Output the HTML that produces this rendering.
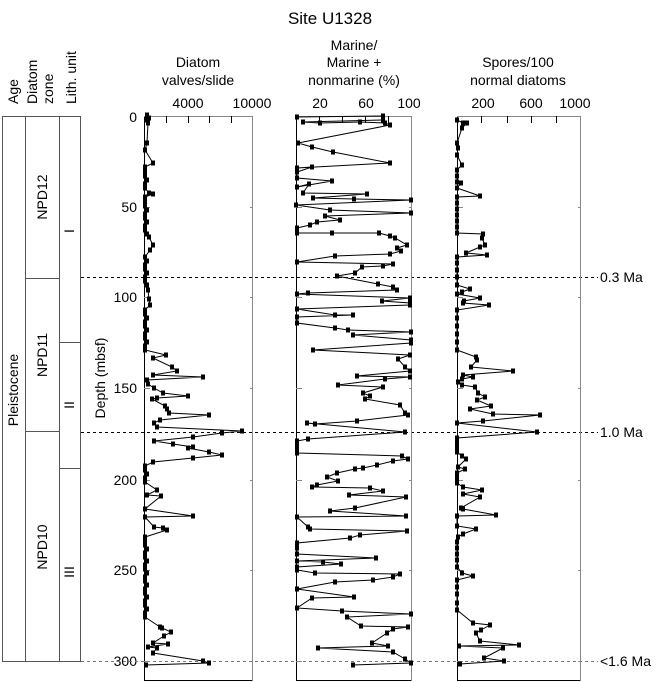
<!DOCTYPE html>
<html><head><meta charset="utf-8"><style>
html,body{margin:0;padding:0;background:#fff}
svg{display:block;font-family:"Liberation Sans",sans-serif}
</style></head><body>
<svg id="s" width="660" height="682" viewBox="0 0 660 682" xmlns="http://www.w3.org/2000/svg">
<text x="330" y="24" font-size="17" text-anchor="middle">Site U1328</text>
<g font-size="14">
<text transform="translate(18,104) rotate(-90)">Age</text>
<text transform="translate(37,104) rotate(-90)">Diatom</text>
<text transform="translate(53,104) rotate(-90)">zone</text>
<text transform="translate(76,104) rotate(-90)">Lith. unit</text>
<text x="198" y="67" text-anchor="middle">Diatom</text>
<text x="198" y="85" text-anchor="middle">valves/slide</text>
<text x="354" y="50" text-anchor="middle">Marine/</text>
<text x="354" y="67" text-anchor="middle">Marine +</text>
<text x="354" y="85" text-anchor="middle">nonmarine (%)</text>
<text x="518" y="67" text-anchor="middle">Spores/100</text>
<text x="518" y="85" text-anchor="middle">normal diatoms</text>
<text x="188" y="108" text-anchor="middle">4000</text>
<text x="252" y="108" text-anchor="middle">10000</text>
<text x="320" y="108" text-anchor="middle">20</text>
<text x="366" y="108" text-anchor="middle">60</text>
<text x="409" y="108" text-anchor="middle">100</text>
<text x="483" y="108" text-anchor="middle">200</text>
<text x="531" y="108" text-anchor="middle">600</text>
<text x="575" y="108" text-anchor="middle">1000</text>
<g text-anchor="end">
<text x="137" y="122">0</text><text x="137" y="212">50</text><text x="137" y="302">100</text>
<text x="137" y="393">150</text><text x="137" y="485">200</text><text x="137" y="575">250</text><text x="137" y="666">300</text>
</g>
<text transform="translate(105,378) rotate(-90)" text-anchor="middle">Depth (mbsf)</text>
<text transform="translate(18,390) rotate(-90)" text-anchor="middle">Pleistocene</text>
<text transform="translate(47,197) rotate(-90)" text-anchor="middle">NPD12</text>
<text transform="translate(47,355) rotate(-90)" text-anchor="middle">NPD11</text>
<text transform="translate(47,547) rotate(-90)" text-anchor="middle">NPD10</text>
<text transform="translate(74,231) rotate(-90)" text-anchor="middle">I</text>
<text transform="translate(74,405) rotate(-90)" text-anchor="middle">II</text>
<text transform="translate(74,572) rotate(-90)" text-anchor="middle">III</text>
<text x="600" y="282">0.3 Ma</text>
<text x="600" y="437">1.0 Ma</text>
<text x="600" y="666">&lt;1.6 Ma</text>
</g>
<g stroke="#555" stroke-width="1" fill="none">
<rect x="2.5" y="116.5" width="78" height="545"/>
<line x1="25.5" y1="116" x2="25.5" y2="662"/>
<line x1="59.5" y1="116" x2="59.5" y2="662"/>
<line x1="25" y1="278.5" x2="59" y2="278.5"/>
<line x1="25" y1="431.5" x2="59" y2="431.5"/>
<line x1="59" y1="342.5" x2="80" y2="342.5"/>
<line x1="59" y1="468.5" x2="80" y2="468.5"/>
</g>
<g stroke="#000" stroke-width="1" stroke-dasharray="3,3">
<line x1="81" y1="277.5" x2="598" y2="277.5"/>
<line x1="81" y1="432.5" x2="598" y2="432.5"/>
<line x1="81" y1="661.5" x2="598" y2="661.5" stroke="#777"/>
</g>
<g id="axes" stroke-width="1" fill="none"></g>
<g id="data"></g>
</svg>
<script>
var ax=document.getElementById('axes'),dg=document.getElementById('data'),NS='http://www.w3.org/2000/svg';
function el(p,t,a){var e=document.createElementNS(NS,t);for(var k in a)e.setAttribute(k,a[k]);p.appendChild(e);return e;}
function panel(l,r,ticks){
 el(ax,'line',{x1:l+.5,y1:116,x2:l+.5,y2:681,stroke:'#000'});
 el(ax,'line',{x1:l,y1:116.5,x2:r,y2:116.5,stroke:'#888'});
 el(ax,'line',{x1:r+.5,y1:116,x2:r+.5,y2:681,stroke:'#888'});
 el(ax,'line',{x1:l,y1:680.5,x2:r,y2:680.5,stroke:'#000'});
 ticks.forEach(function(t){el(ax,'line',{x1:t+.5,y1:116,x2:t+.5,y2:123,stroke:'#000'});});
 [207,297,388,480,570,661].forEach(function(y){el(ax,'line',{x1:l,y1:y+.5,x2:l+6,y2:y+.5,stroke:'#888'});el(ax,'line',{x1:r-2,y1:y+.5,x2:r,y2:y+.5,stroke:'#888'});});
}
panel(144,252,[166,188,209,231]);
panel(296,411,[319,342,365,388]);
panel(457,580,[481,507,531,556]);
function series(p){
 el(dg,'polyline',{points:p.map(function(q){return q.join(',')}).join(' '),fill:'none',stroke:'#000','stroke-width':1});
 p.forEach(function(q){el(dg,'rect',{x:q[0]-2,y:q[1]-2.5,width:4,height:5,fill:'#000'});});
}
function fill(x,y0,y1,st){var a=[];for(var y=y0;y<=y1;y+=st)a.push([x+((y*7)%3===0?2:0),y]);return a;}
var p1=[[147,115],[149,118],[147,120],[148,123],[147,143],[145,150],[153,163],[145,167]].concat(fill(145,172,190,4),[[149,193],[153,194],[145,197]],fill(145,202,234,4),[[149,237],[153,245],[150,250]],fill(145,257,287,4),[[148,290],[149,299],[150,305]],fill(145,310,346,4),
[[145,350],[166,355],[153,358],[172,367],[177,371],[153,375],[203,377],[147,380],[148,384],[154,388],[163,393],[188,396],[157,398],[152,399],[165,406],[167,409],[169,413],[209,415],[160,420],[154,423],[157,427],[242,431],[222,433],[193,437],[154,441],[173,444],[193,447],[188,448],[209,452],[222,455],[193,458],[153,462],[145,466]],fill(145,470,480,4),
[[145,482],[157,490],[147,495],[161,496],[145,509],[193,516],[145,517],[154,527],[163,528],[167,530],[145,537]],fill(145,541,617,4),
[[160,627],[162,628],[171,632],[164,636],[153,643],[168,644],[148,647],[157,648],[153,653],[203,661],[209,663],[146,665]]);
series(p1);
series([[297,117],[383,116],[383,120],[303,122],[320,123],[360,122],[385,123],[390,125],[298,143],[312,147],[333,152],[390,163],[297,168],[312,167],[297,172],[297,178],[332,181],[297,187],[309,184],[303,193],[367,194],[313,198],[354,199],[411,200],[296,205],[330,210],[411,213],[325,216],[340,220],[317,222],[310,225],[297,228],[297,233],[332,233],[379,233],[390,236],[395,238],[407,245],[397,248],[401,251],[390,254],[335,256],[297,262],[393,264],[383,266],[362,267],[355,273],[337,276],[378,284],[393,287],[397,290],[308,293],[297,294],[410,298],[382,301],[410,303],[410,305],[297,309],[335,315],[353,315],[297,317],[297,323],[335,328],[348,330],[411,332],[353,335],[411,340],[411,343],[313,350],[410,355],[398,359],[405,367],[410,371],[357,376],[410,377],[385,379],[338,385],[383,387],[363,393],[370,396],[365,399],[400,405],[405,413],[408,415],[357,421],[315,424],[307,423],[405,432],[308,439],[297,441],[297,445],[297,449],[297,453],[402,456],[408,459],[393,461],[377,465],[363,468],[355,469],[337,473],[327,477],[338,481],[317,485],[312,487],[370,488],[383,491],[349,495],[406,497],[355,508],[330,511],[406,516],[297,517],[308,527],[310,529],[407,531],[360,535],[350,538],[297,543],[297,548],[297,554],[376,558],[297,561],[323,562],[341,564],[297,567],[297,570],[315,573],[400,574],[393,577],[373,580],[335,582],[297,589],[354,597],[312,598],[297,608],[342,611],[411,614],[347,617],[361,626],[408,627],[393,629],[387,633],[372,643],[388,646],[318,648],[393,652],[405,659],[411,663],[353,665]]);
series([[457,120],[463,123],[467,123],[462,128],[457,143],[458,148],[457,155],[462,165],[457,170],[457,176],[457,182],[461,183],[457,188],[480,196],[457,197],[457,203],[457,209],[457,215],[457,221],[457,227],[457,233],[483,234],[482,238],[485,245],[480,247],[466,253],[487,255],[457,257],[457,263],[457,270],[457,277],[457,285],[470,289],[462,292],[457,294],[480,298],[464,301],[463,303],[489,305],[457,310],[457,318],[457,326],[457,334],[457,342],[457,350],[476,357],[477,360],[471,367],[513,371],[463,375],[473,377],[462,379],[458,382],[462,385],[475,387],[478,393],[485,397],[477,400],[491,406],[470,409],[493,414],[540,415],[483,421],[457,423],[537,432],[457,438],[457,442],[457,447],[457,452],[462,456],[466,459],[458,467],[465,469],[457,473],[457,478],[457,483],[463,487],[482,490],[463,494],[480,497],[461,508],[463,509],[496,515],[457,516],[457,526],[476,529],[463,534],[458,537],[457,542],[457,548],[457,554],[457,560],[457,567],[462,573],[473,576],[457,580],[457,587],[457,594],[457,603],[457,610],[473,623],[490,625],[481,630],[476,633],[480,641],[519,645],[459,646],[503,648],[484,658],[504,661],[460,664]]);
</script>
</body></html>
